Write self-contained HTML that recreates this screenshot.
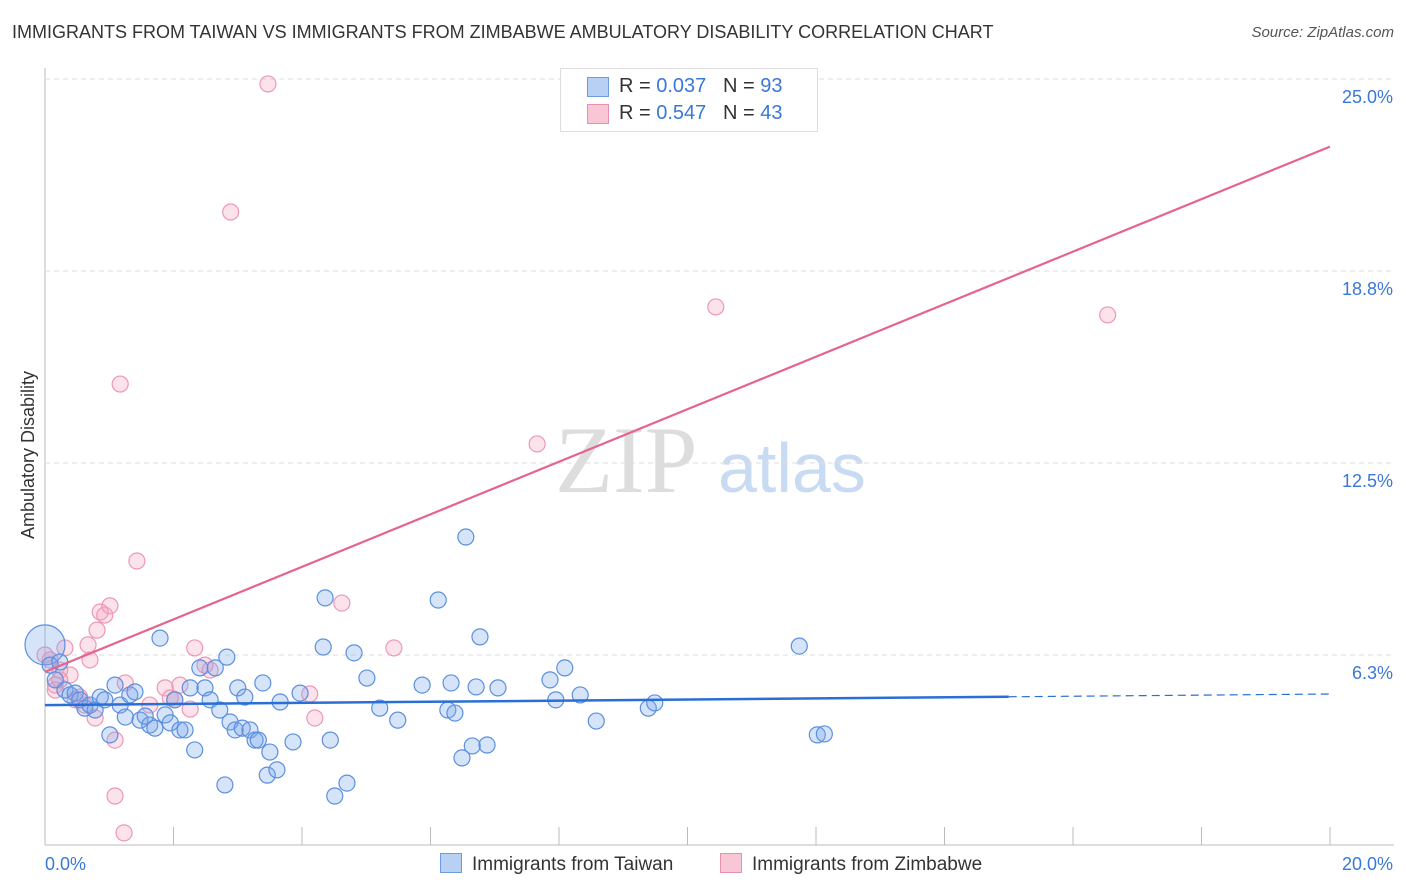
<!DOCTYPE html>
<html><head><meta charset="utf-8"><style>
body{margin:0;background:#fff;font-family:"Liberation Sans",sans-serif;}
#wrap{position:relative;width:1406px;height:892px;overflow:hidden;}
</style></head><body>
<div id="wrap">
<div style="position:absolute;left:12px;top:22px;font-size:18px;color:#333;">IMMIGRANTS FROM TAIWAN VS IMMIGRANTS FROM ZIMBABWE AMBULATORY DISABILITY CORRELATION CHART</div>
<div style="position:absolute;right:12px;top:24px;font-size:15px;color:#555;font-style:italic;">Source: ZipAtlas.com</div>
<svg id="svg" width="1406" height="892" style="position:absolute;left:0;top:0">
<text x="555" y="492" font-size="95" fill="#ddd" font-family="Liberation Serif,serif">ZIP</text>
<text x="718" y="492" font-size="70" fill="#c9dbf3">atlas</text>
<text transform="translate(34,455) rotate(-90)" text-anchor="middle" font-size="18" fill="#333">Ambulatory Disability</text>
<g id="grid"></g><g id="pts"></g><g id="lines"></g>
</svg>
<div style="position:absolute;left:560px;top:68px;width:256px;height:62px;border:1px solid #ddd;background:#fff;font-size:20px;color:#333;">
<div style="position:absolute;left:26px;top:6px;"><span style="position:absolute;left:0;top:2px;width:20px;height:18px;background:#b8d0f3;border:1px solid #6d9be0;"></span><span style="position:absolute;left:32px;white-space:nowrap">R = <span style="color:#3a78d8">0.037</span>&nbsp;&nbsp;&nbsp;N = <span style="color:#3a78d8">93</span></span></div>
<div style="position:absolute;left:26px;top:33px;"><span style="position:absolute;left:0;top:2px;width:20px;height:18px;background:#f8c6d5;border:1px solid #e891ae;"></span><span style="position:absolute;left:32px;white-space:nowrap">R = <span style="color:#3a78d8">0.547</span>&nbsp;&nbsp;&nbsp;N = <span style="color:#3a78d8">43</span></span></div>
</div>
<div style="position:absolute;left:440px;top:853px;font-size:19px;color:#333;white-space:nowrap;"><span style="display:inline-block;width:20px;height:18px;background:#b8d0f3;border:1px solid #6d9be0;vertical-align:-3px;margin-right:10px;"></span>Immigrants from Taiwan</div>
<div style="position:absolute;left:720px;top:853px;font-size:19px;color:#333;white-space:nowrap;"><span style="display:inline-block;width:20px;height:18px;background:#f8c6d5;border:1px solid #e891ae;vertical-align:-3px;margin-right:10px;"></span>Immigrants from Zimbabwe</div>
</div>
<script>
const yTicks=[6.25,12.5,18.75,25];
const yTickLabels=["6.3%","12.5%","18.8%","25.0%"];
const xTickLabels=["0.0%","20.0%"];
const taiwanX=[0,.08,.23,.16,.31,.39,.47,.54,.62,.70,.78,.86,.93,1.01,1.09,1.17,1.25,1.32,1.40,1.48,1.56,1.63,1.71,1.79,1.87,1.95,2.02,2.10,2.18,2.26,2.33,2.41,2.49,2.57,2.65,2.72,2.80,2.83,2.88,2.96,3.00,3.07,3.11,3.19,3.27,3.32,3.39,3.46,3.50,3.61,3.66,3.86,3.97,4.33,4.36,4.44,4.51,4.70,4.81,5.01,5.21,5.49,5.87,6.12,6.27,6.32,6.38,6.49,6.55,6.65,6.71,6.77,6.88,7.05,7.86,7.95,8.09,8.33,8.58,9.39,9.49,11.74,12.02,12.13];
const taiwanY=[6.58,5.92,6.02,5.44,5.11,4.95,5.01,4.79,4.52,4.62,4.46,4.88,4.79,3.65,5.27,4.62,4.23,4.95,5.05,4.13,4.26,3.97,3.87,6.80,4.30,4.04,4.79,3.81,3.81,5.18,3.16,5.83,5.18,4.79,5.83,4.46,2.02,6.18,4.07,3.81,5.18,3.87,4.88,3.81,3.48,3.48,5.34,2.34,3.09,2.51,4.72,3.42,5.01,6.51,8.11,3.48,1.66,2.08,6.32,5.50,4.52,4.13,5.27,8.04,4.46,5.34,4.36,2.90,10.09,3.29,5.21,6.84,3.32,5.18,5.44,4.79,5.83,4.95,4.10,4.52,4.69,6.54,3.65,3.68];
const zimX=[0,.08,.16,.23,.31,.39,.47,.62,.70,.78,.81,.86,.93,1.01,1.09,1.09,1.17,1.23,1.43,1.63,1.87,1.95,2.10,2.26,2.33,2.57,2.89,3.47,4.12,4.20,4.62,5.43,7.66,10.44,16.54,.16,.23,.54,.67,1.25,2.02,2.49];
const zimY=[6.25,6.09,5.27,5.76,6.48,5.60,4.79,4.62,6.09,4.20,7.06,7.65,7.55,7.85,3.48,1.66,15.07,0.46,9.31,4.62,5.18,4.85,5.27,4.49,6.48,5.76,20.67,24.84,4.98,4.20,7.94,6.48,13.12,17.58,17.32,5.11,5.44,4.88,6.58,5.34,4.79,5.92];
const taiwanTrend=[4.62,4.98];
const zimTrend=[5.7,22.8];
const X0=45,X1=1330,Y0=847,PY=30.72;
const sx=v=>X0+v*(X1-X0)/20, sy=v=>Y0-v*PY;
const NS="http://www.w3.org/2000/svg";
function mk(tag,attrs,parent,txt){const e=document.createElementNS(NS,tag);for(const k in attrs)e.setAttribute(k,attrs[k]);if(txt!==undefined)e.textContent=txt;document.getElementById(parent).appendChild(e);return e;}
const g='grid';
let e=mk('line',{x1:X0,y1:68,x2:X0,y2:845,stroke:'#bbb'},g);


e=mk('line',{x1:X0,y1:845,x2:1394,y2:845,stroke:'#bbb'},g);


for(let i=0;i<=10;i++){const t=mk('line',{x1:X0+i*128.5,y1:827,x2:X0+i*128.5,y2:845,stroke:'#bbb'},g);

}
yTicks.forEach((v,i)=>{const l=mk('line',{x1:X0,y1:sy(v),x2:1394,y2:sy(v),stroke:'#ddd','stroke-dasharray':'5,4'},g);


const t=mk('text',{x:1393,y:sy(v)+24,'text-anchor':'end','font-size':18,fill:'#3a78d8'},g,yTickLabels[i]);

});
let t0=mk('text',{x:45,y:870,'font-size':18,fill:'#3a78d8'},g,xTickLabels[0]);


let t1=mk('text',{x:1393,y:870,'text-anchor':'end','font-size':18,fill:'#3a78d8'},g,xTickLabels[1]);


zimX.forEach((x,i)=>{const c=mk('circle',{cx:sx(x),cy:sy(zimY[i]),r:8,fill:'rgba(244,160,188,0.3)',stroke:'#ec98b4','stroke-width':1.2},'pts');

});
taiwanX.forEach((x,i)=>{const c=mk('circle',{cx:sx(x),cy:sy(taiwanY[i]),r:i==0?20:8,fill:'rgba(120,165,235,0.3)',stroke:'#5b8fe0','stroke-width':1.2},'pts');

});
const tm=taiwanTrend[0]+(taiwanTrend[1]-taiwanTrend[0])*0.75;
let l1=mk('line',{x1:sx(0),y1:sy(taiwanTrend[0]),x2:sx(15),y2:sy(tm),stroke:'#2a6fd6','stroke-width':2.5},'lines');


let l2=mk('line',{x1:sx(15),y1:sy(tm),x2:sx(20),y2:sy(taiwanTrend[1]),stroke:'#2a6fd6','stroke-width':1.2,'stroke-dasharray':'8,5'},'lines');


let l3=mk('line',{x1:sx(0),y1:sy(zimTrend[0]),x2:sx(20),y2:sy(zimTrend[1]),stroke:'#e5648f','stroke-width':2.2},'lines');


</script>
</body></html>
